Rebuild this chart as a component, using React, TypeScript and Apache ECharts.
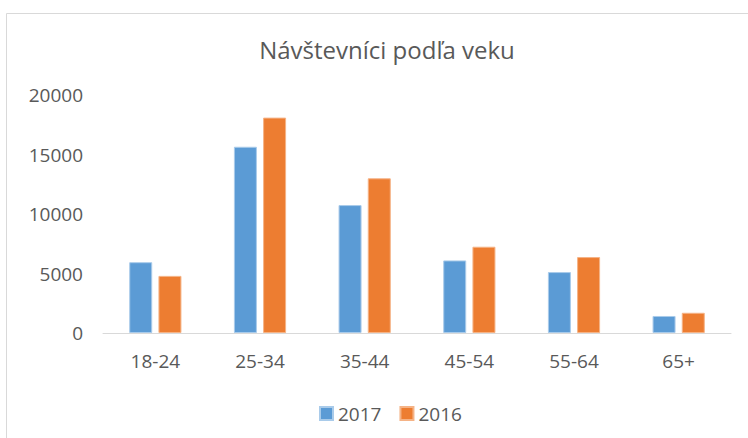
import React, { useEffect, useRef } from "react";
import * as echarts from "echarts";

const categories = ["18-24", "25-34", "35-44", "45-54", "55-64", "65+"];
const series2017 = [5950, 15650, 10750, 6100, 5120, 1430];
const series2016 = [4800, 18100, 13000, 7250, 6380, 1700];
const yTicks = { min: 0, max: 20000, interval: 5000 };

const FONT = "Open Sans";
const TEXT = "#595959";

export default function App() {
  const ref = useRef<HTMLDivElement>(null);
  useEffect(() => {
    if (!ref.current) return;
    const chart = echarts.init(ref.current, undefined, { renderer: "svg" });
    chart.setOption({
      animation: false,
      backgroundColor: "#ffffff",
      textStyle: { fontFamily: FONT },
      graphic: [
        {
          type: "rect",
          shape: { x: 6.5, y: 13.5, width: 780, height: 460 },
          style: { fill: "none", stroke: "#d9d9d9", lineWidth: 1 },
          silent: true,
        },
      ],
      title: {
        text: "Návštevníci podľa veku",
        left: 382,
        textAlign: "center",
        top: 32,
        textStyle: { fontFamily: FONT, fontSize: 24, fontWeight: "normal", color: TEXT },
      },
      legend: {
        top: 399,
        left: 314,
        itemWidth: 13,
        itemHeight: 13,
        itemGap: 18,
        icon: "rect",
        textStyle: { fontFamily: FONT, fontSize: 19, color: TEXT },
        data: ["2017", "2016"],
      },
      grid: { left: 103, right: 17, top: 95, bottom: 105, containLabel: false },
      xAxis: {
        type: "category",
        data: categories,
        axisLine: { lineStyle: { color: "#d9d9d9", width: 1 } },
        axisTick: { show: false },
        axisLabel: { fontFamily: FONT, fontSize: 19, color: TEXT, margin: 18 },
      },
      yAxis: {
        type: "value",
        min: yTicks.min,
        max: yTicks.max,
        interval: yTicks.interval,
        splitLine: { show: false },
        axisLine: { show: false },
        axisTick: { show: false },
        axisLabel: {
          fontFamily: FONT,
          fontSize: 19,
          color: TEXT,
          margin: 20,
          formatter: (v: number) => String(v),
        },
      },
      series: [
        {
          name: "2017",
          type: "bar",
          data: series2017,
          barWidth: 23,
          barGap: "27%",
          itemStyle: { color: "#5b9bd5", borderColor: "#a9cbea", borderWidth: 1 },
        },
        {
          name: "2016",
          type: "bar",
          data: series2016,
          barWidth: 23,
          itemStyle: { color: "#ed7d31", borderColor: "#f5b386", borderWidth: 1 },
        },
      ],
    });
    return () => chart.dispose();
  }, []);
  return (
    <div
      ref={ref}
      style={{ position: "fixed", left: 0, top: 0, width: 748, height: 438 }}
    />
  );
}
